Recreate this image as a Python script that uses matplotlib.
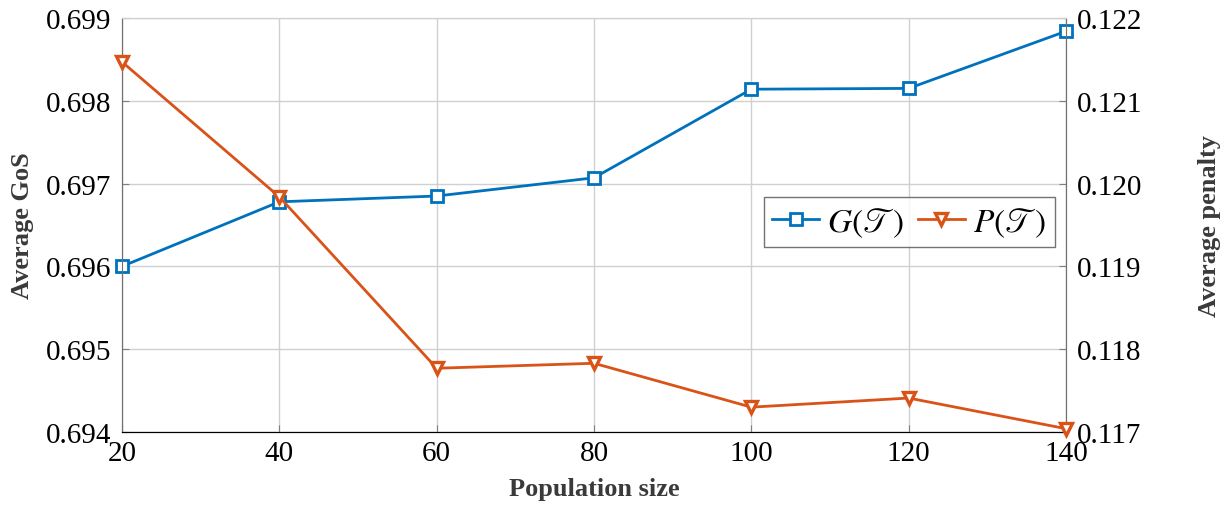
import matplotlib.pyplot as plt
from matplotlib.lines import Line2D

plt.rcParams['font.family'] = ['Liberation Serif', 'DejaVu Serif']
plt.rcParams['mathtext.fontset'] = 'stix'

pop_size = [20, 40, 60, 80, 100, 120, 140]
gos = [0.69600, 0.69678, 0.69685, 0.69707, 0.69814, 0.69815, 0.69884]
penalty = [0.12147, 0.11984, 0.11777, 0.11783, 0.11730, 0.11741, 0.11704]

blue = '#0072BD'
orange = '#D95319'

fig = plt.figure(figsize=(12.25, 5.1), dpi=100)
ax = fig.add_axes([122 / 1225, 1 - 433 / 510, (1066 - 122) / 1225, (433 - 19) / 510])
ax2 = ax.twinx()

ax.plot(pop_size, gos, color=blue, lw=2, marker='s', ms=8.5, mfc='white', mew=2, clip_on=False, zorder=3)
ax2.plot(pop_size, penalty, color=orange, lw=2, marker='v', ms=9, mfc='white', mew=2.4, clip_on=False, zorder=3)

ax.set_xlim(20, 140)
ax.set_ylim(0.694, 0.699)
ax2.set_ylim(0.117, 0.122)
ax.set_xticks(pop_size)
ax.set_yticks([0.694, 0.695, 0.696, 0.697, 0.698, 0.699])
ax2.set_yticks([0.117, 0.118, 0.119, 0.120, 0.121, 0.122])
ax.set_yticklabels(['%.3f' % v for v in ax.get_yticks()])
ax2.set_yticklabels(['%.3f' % v for v in ax2.get_yticks()])

ax.grid(True, color='#d0d0d0', lw=1)
ax.set_axisbelow(True)
for a in (ax, ax2):
    a.tick_params(direction='in', labelsize=21, length=5, color='#808080', pad=8)
    for s in a.spines.values():
        s.set_color('#707070')
ax.tick_params(axis='x', pad=6)
ax.spines['bottom'].set_color('black')
ax.spines['top'].set_color('#d0d0d0')
ax2.spines['top'].set_color('#d0d0d0')
ax2.spines['bottom'].set_color('black')

lab_color = '#3a3a3a'
ax.set_xlabel('Population size', fontsize=19, fontweight='bold', color=lab_color, labelpad=8)
ax.set_ylabel('Average GoS', fontsize=19, fontweight='bold', color=lab_color, labelpad=8)
ax2.set_ylabel('Average penalty', fontsize=19, fontweight='bold', color=lab_color, labelpad=40)

handles = [
    Line2D([], [], color=blue, lw=2, marker='s', ms=8, mfc='white', mew=2),
    Line2D([], [], color=orange, lw=2, marker='v', ms=8, mfc='white', mew=2.4),
]
leg = ax2.legend(handles, [r'$G(\mathscr{T})$', r'$P(\mathscr{T})$'], ncol=2, fontsize=24,
                 loc='center right', bbox_to_anchor=(0.988, 0.507), frameon=True, fancybox=False,
                 handlelength=1.4, columnspacing=0.4, handletextpad=0.25, borderpad=0.25,
                 borderaxespad=0)
leg.get_frame().set_edgecolor('#505050')
leg.get_frame().set_linewidth(1)

fig.savefig('out.png', dpi=100)
